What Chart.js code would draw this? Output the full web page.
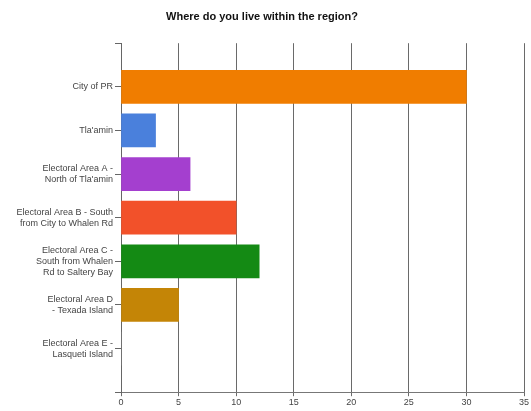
<!DOCTYPE html>
<html>
<head>
<meta charset="utf-8">
<script src="https://cdn.jsdelivr.net/npm/chart.js@4/dist/chart.umd.min.js"></script>
<style>
  html, body { margin: 0; padding: 0; background: #fff; }
  #wrap { width: 531px; height: 411px; position: relative; }
</style>
</head>
<body>
<div id="wrap"><canvas id="c" width="531" height="411"></canvas></div>
<script>
// Survey responses: where respondents live within the region
const categories = [
  ['City of PR'],
  ["Tla'amin"],
  ['Electoral Area A -', "North of Tla'amin"],
  ['Electoral Area B - South', 'from City to Whalen Rd'],
  ['Electoral Area C -', 'South from Whalen', 'Rd to Saltery Bay'],
  ['Electoral Area D', '- Texada Island'],
  ['Electoral Area E -', 'Lasqueti Island']
];
const responses = [30, 3, 6, 10, 12, 5, 0];
const barColors = ['#f07d00', '#4a80dc', '#a43fcf', '#f2512a', '#148a14', '#c48506', '#888888'];
const xTicks = [0, 5, 10, 15, 20, 25, 30, 35];

// One blank slot above and below the answers leaves the same gap as the answers' spacing
const labels = [''].concat(categories, ['']);
const values = [null].concat(responses, [null]);
const colors = ['#fff'].concat(barColors, ['#fff']);

function shade(hex, amt) {
  const n = parseInt(hex.slice(1), 16);
  let r = (n >> 16) & 255, g = (n >> 8) & 255, b = n & 255;
  const f = v => Math.max(0, Math.min(255, Math.round(amt >= 0 ? v + (255 - v) * amt : v * (1 + amt))));
  return 'rgb(' + f(r) + ',' + f(g) + ',' + f(b) + ')';
}

const ctx = document.getElementById('c').getContext('2d');
new Chart(ctx, {
  type: 'bar',
  data: {
    labels: labels,
    datasets: [{
      data: values,
      backgroundColor: function (c) {
        const base = colors[c.dataIndex] || '#888';
        const el = c.chart.getDatasetMeta(0).data[c.dataIndex];
        if (!el || el.height === undefined || !isFinite(el.y)) return base;
        const h = el.height || 33;
        const g = c.chart.ctx.createLinearGradient(0, el.y - h / 2, 0, el.y + h / 2);
        g.addColorStop(0, shade(base, 0.12));
        g.addColorStop(0.5, base);
        g.addColorStop(1, shade(base, -0.08));
        return g;
      },
      borderWidth: 0,
      barThickness: 33
    }]
  },
  options: {
    indexAxis: 'y',
    responsive: false,
    animation: false,
    layout: { padding: { left: 0, right: 7, top: 0, bottom: 2 } },
    plugins: {
      legend: { display: false },
      tooltip: { enabled: false },
      title: {
        display: true,
        text: 'Where do you live within the region?',
        color: '#111',
        font: { family: 'Liberation Sans, Arial, sans-serif', size: 11, weight: 'bold' },
        padding: { top: 10, bottom: 20 }
      }
    },
    scales: {
      x: {
        type: 'linear',
        min: 0,
        max: 35,
        afterBuildTicks: function (s) { s.ticks = xTicks.map(v => ({ value: v })); },
        grid: {
          display: true,
          drawOnChartArea: true,
          color: '#6a6a6a',
          lineWidth: 1,
          tickLength: 4
        },
        border: { display: true, color: '#777', width: 1 },
        ticks: {
          color: '#444',
          font: { family: 'Liberation Sans, Arial, sans-serif', size: 9 },
          padding: 1
        }
      },
      y: {
        type: 'category',
        offset: false,
        afterFit: function (s) { s.width = 121; },
        grid: {
          display: true,
          offset: false,
          drawOnChartArea: false,
          color: '#666',
          tickLength: 6
        },
        border: { display: true, color: '#666', width: 1 },
        ticks: {
          color: '#444',
          autoSkip: false,
          font: { family: 'Liberation Sans, Arial, sans-serif', size: 9, lineHeight: 1.22 },
          padding: 2
        }
      }
    }
  }
});
</script>
</body>
</html>
